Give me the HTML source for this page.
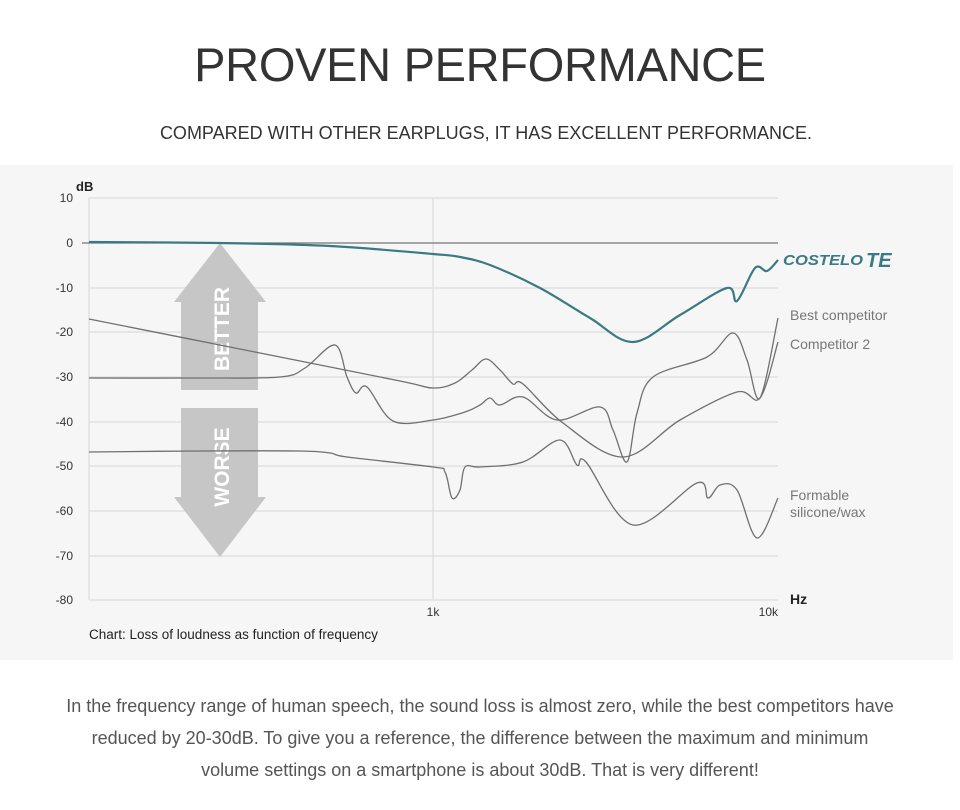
<!DOCTYPE html>
<html><head><meta charset="utf-8"><style>
body{margin:0;width:960px;height:810px;background:#fff;font-family:"Liberation Sans",sans-serif;overflow:hidden;position:relative}
.t{position:absolute;left:0;width:960px;text-align:center}
</style></head><body>
<div class="t" style="top:37px;font-size:47px;color:#333;letter-spacing:-0.3px">PROVEN PERFORMANCE</div>
<div class="t" style="top:123px;font-size:18px;color:#333;padding-left:6px">COMPARED WITH OTHER EARPLUGS, IT HAS EXCELLENT PERFORMANCE.</div>
<svg width="960" height="810" style="position:absolute;left:0;top:0" id="s">
<rect x="0" y="165" width="953" height="495" fill="#f6f6f6"/>
<g stroke="#dcdcdc" stroke-width="1.2">
<line x1="89" y1="198" x2="778" y2="198"/><line x1="89" y1="288" x2="778" y2="288"/><line x1="89" y1="332" x2="778" y2="332"/><line x1="89" y1="377" x2="778" y2="377"/><line x1="89" y1="422" x2="778" y2="422"/><line x1="89" y1="466" x2="778" y2="466"/><line x1="89" y1="511" x2="778" y2="511"/><line x1="89" y1="556" x2="778" y2="556"/><line x1="89" y1="600" x2="778" y2="600"/>
<line x1="89" y1="198" x2="89" y2="600"/><line x1="433" y1="198" x2="433" y2="600"/>
</g>
<line x1="82" y1="243" x2="778" y2="243" stroke="#777" stroke-width="1.3"/>
<g fill="#c6c6c6">
<polygon points="220,243 266,302 258,302 258,390 181,390 181,302 174,302"/>
<polygon points="181,408 258,408 258,497 266,497 220,557 174,497 181,497"/>
</g>
<g fill="#fff" font-weight="bold" font-size="21" text-anchor="middle">
<text transform="translate(229,329) rotate(-90)">BETTER</text>
<text transform="translate(229,467) rotate(-90)">WORSE</text>
</g>
<g font-size="12" fill="#333" text-anchor="end">
<text x="73" y="202">10</text><text x="73" y="247">0</text><text x="73" y="292">-10</text><text x="73" y="336">-20</text><text x="73" y="381">-30</text><text x="73" y="426">-40</text><text x="73" y="470">-50</text><text x="73" y="515">-60</text><text x="73" y="560">-70</text><text x="73" y="604">-80</text>
</g>
<text x="76" y="191" font-size="13" font-weight="bold" fill="#222">dB</text>
<text x="433" y="616" font-size="12" fill="#333" text-anchor="middle">1k</text>
<text x="778" y="616" font-size="12" fill="#333" text-anchor="end">10k</text>
<text x="790" y="604" font-size="14" font-weight="bold" fill="#222">Hz</text>
<text x="89" y="639" font-size="13.5" fill="#222">Chart: Loss of loudness as function of frequency</text>
<g font-size="14" fill="#777">
<text x="790" y="320">Best competitor</text><text x="790" y="349">Competitor 2</text>
<text x="790" y="500">Formable</text><text x="790" y="517">silicone/wax</text>
</g>
<text x="783" y="265" font-size="15" font-weight="bold" font-style="italic" fill="#3a7a82" textLength="80" lengthAdjust="spacingAndGlyphs">COSTELO</text>
<text x="866" y="267" font-size="20" font-weight="bold" font-style="italic" fill="#3a7a82">TE</text>
<g fill="none" id="g"></g>
</svg>
<div class="t" style="top:690px;font-size:18px;color:#555;line-height:32px">In the frequency range of human speech, the sound loss is almost zero, while the best competitors have<br>reduced by 20-30dB. To give you a reference, the difference between the maximum and minimum<br>volume settings on a smartphone is about 30dB. That is very different!</div>
<script>
function cr(p){let d="M"+p[0][0]+","+p[0][1];for(let i=0;i<p.length-1;i++){const a=p[i-1]||p[i],b=p[i],c=p[i+1],e=p[i+2]||c;d+=" C"+(b[0]+(c[0]-a[0])/6)+","+(b[1]+(c[1]-a[1])/6)+" "+(c[0]-(e[0]-b[0])/6)+","+(c[1]-(e[1]-b[1])/6)+" "+c[0]+","+c[1];}return d;}
const S=[
[[[89,378],[200,378],[280,377],[305,368],[335,345],[347,377],[356,393],[367,387],[393,421],[433,420],[465,412],[480,405],[490,398],[500,405],[523,397],[557,420],[600,407],[613,430],[627,462],[637,413],[653,377],[707,357],[733,333],[747,360],[760,398],[778,318]],"#707070",1.3],
[[[89,319],[260,353],[400,381],[433,388],[455,383],[472,370],[486,359],[500,370],[513,384],[523,384],[563,423],[623,457],[680,420],[737,392],[760,398],[778,342]],"#707070",1.3],
[[[89,452],[200,451],[300,451],[330,453],[347,457],[433,467],[445,472],[452,498],[460,490],[465,467],[480,467],[523,462],[560,440],[577,465],[586,462],[633,525],[697,483],[708,498],[720,485],[737,490],[757,538],[778,498]],"#707070",1.3],
[[[89,242],[220,243],[330,246],[433,254],[460,257],[490,265],[540,288],[590,318],[633,342],[680,315],[727,288],[737,301],[755,268],[767,271],[778,260]],"#3a7a82",2.2]];
const g=document.getElementById("g");
S.forEach(s=>{const p=document.createElementNS("http://www.w3.org/2000/svg","path");p.setAttribute("d",cr(s[0]));p.setAttribute("stroke",s[1]);p.setAttribute("stroke-width",s[2]);g.appendChild(p);});
</script>
</body></html>
